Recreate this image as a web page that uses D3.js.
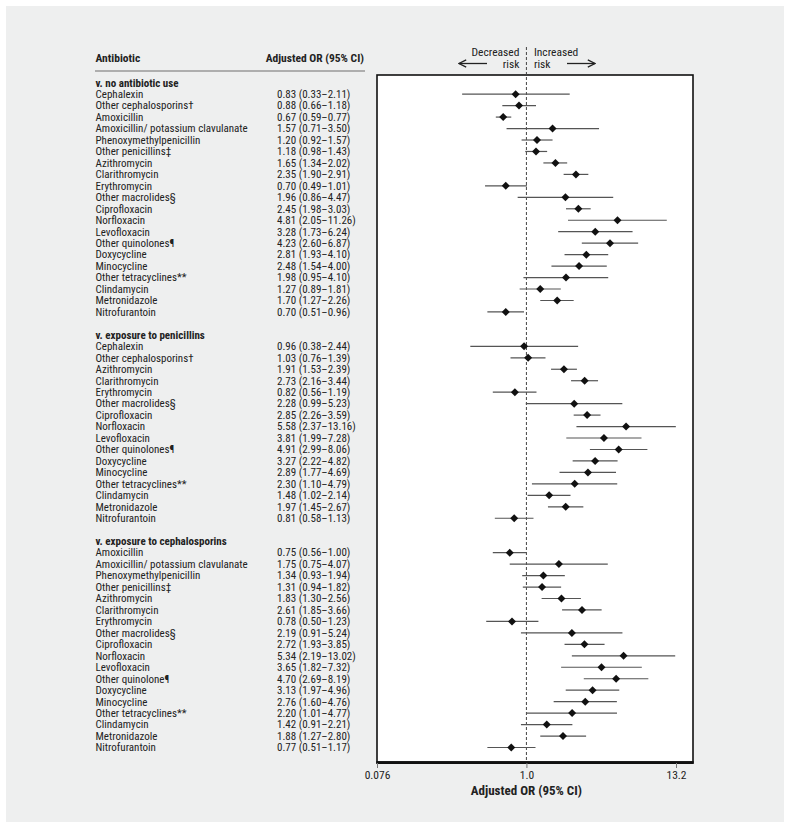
<!DOCTYPE html>
<html>
<head>
<meta charset="utf-8">
<script src="https://cdn.jsdelivr.net/npm/d3@7"></script>
<style>
  html, body { margin: 0; padding: 0; background: #ffffff; }
  svg { display: block; }
  text { font-family: "Liberation Sans Narrow", "Roboto Condensed", "Roboto", sans-serif; fill: #222; }
</style>
</head>
<body>
<script>
// ---------- DATA ----------
const sectionTitles = ["v. no antibiotic use", "v. exposure to penicillins", "v. exposure to cephalosporins"];

const drugs1 = ["Cephalexin", "Other cephalosporins\u2020", "Amoxicillin", "Amoxicillin/ potassium clavulanate",
  "Phenoxymethylpenicillin", "Other penicillins\u2021", "Azithromycin", "Clarithromycin", "Erythromycin",
  "Other macrolides\u00a7", "Ciprofloxacin", "Norfloxacin", "Levofloxacin", "Other quinolones\u00b6",
  "Doxycycline", "Minocycline", "Other tetracyclines**", "Clindamycin", "Metronidazole", "Nitrofurantoin"];
const or1 = [0.83, 0.88, 0.67, 1.57, 1.20, 1.18, 1.65, 2.35, 0.70, 1.96, 2.45, 4.81, 3.28, 4.23, 2.81, 2.48, 1.98, 1.27, 1.70, 0.70];
const lo1 = [0.33, 0.66, 0.59, 0.71, 0.92, 0.98, 1.34, 1.90, 0.49, 0.86, 1.98, 2.05, 1.73, 2.60, 1.93, 1.54, 0.95, 0.89, 1.27, 0.51];
const hi1 = [2.11, 1.18, 0.77, 3.50, 1.57, 1.43, 2.02, 2.91, 1.01, 4.47, 3.03, 11.26, 6.24, 6.87, 4.10, 4.00, 4.10, 1.81, 2.26, 0.96];

const drugs2 = ["Cephalexin", "Other cephalosporins\u2020", "Azithromycin", "Clarithromycin", "Erythromycin",
  "Other macrolides\u00a7", "Ciprofloxacin", "Norfloxacin", "Levofloxacin", "Other quinolones\u00b6",
  "Doxycycline", "Minocycline", "Other tetracyclines**", "Clindamycin", "Metronidazole", "Nitrofurantoin"];
const or2 = [0.96, 1.03, 1.91, 2.73, 0.82, 2.28, 2.85, 5.58, 3.81, 4.91, 3.27, 2.89, 2.30, 1.48, 1.97, 0.81];
const lo2 = [0.38, 0.76, 1.53, 2.16, 0.56, 0.99, 2.26, 2.37, 1.99, 2.99, 2.22, 1.77, 1.10, 1.02, 1.45, 0.58];
const hi2 = [2.44, 1.39, 2.39, 3.44, 1.19, 5.23, 3.59, 13.16, 7.28, 8.06, 4.82, 4.69, 4.79, 2.14, 2.67, 1.13];

const drugs3 = ["Amoxicillin", "Amoxicillin/ potassium clavulanate", "Phenoxymethylpenicillin", "Other penicillins\u2021",
  "Azithromycin", "Clarithromycin", "Erythromycin", "Other macrolides\u00a7", "Ciprofloxacin", "Norfloxacin",
  "Levofloxacin", "Other quinolone\u00b6", "Doxycycline", "Minocycline", "Other tetracyclines**",
  "Clindamycin", "Metronidazole", "Nitrofurantoin"];
const or3 = [0.75, 1.75, 1.34, 1.31, 1.83, 2.61, 0.78, 2.19, 2.72, 5.34, 3.65, 4.70, 3.13, 2.76, 2.20, 1.42, 1.88, 0.77];
const lo3 = [0.56, 0.75, 0.93, 0.94, 1.30, 1.85, 0.50, 0.91, 1.93, 2.19, 1.82, 2.69, 1.97, 1.60, 1.01, 0.91, 1.27, 0.51];
const hi3 = [1.00, 4.07, 1.94, 1.82, 2.56, 3.66, 1.23, 5.24, 3.85, 13.02, 7.32, 8.19, 4.96, 4.76, 4.77, 2.21, 2.80, 1.17];

const tickValues = [0.076, 1.0, 13.2];
const tickLabels = ["0.076", "1.0", "13.2"];
const colHeaders = ["Antibiotic", "Adjusted OR (95% CI)"];
const axisTitle = "Adjusted OR (95% CI)";
const dirLabels = ["Decreased", "risk", "Increased", "risk"];

// ---------- BUILD ROWS ----------
const sections = [
  {title: sectionTitles[0], drugs: drugs1, or: or1, lo: lo1, hi: hi1},
  {title: sectionTitles[1], drugs: drugs2, or: or2, lo: lo2, hi: hi2},
  {title: sectionTitles[2], drugs: drugs3, or: or3, lo: lo3, hi: hi3}
];
const rows = [];
let slot = 0;
sections.forEach((s, si) => {
  if (si > 0) slot += 1; // blank spacer
  rows.push({type: "head", text: s.title, slot: slot++});
  s.drugs.forEach((d, i) => rows.push({type: "row", name: d, or: s.or[i], lo: s.lo[i], hi: s.hi[i], slot: slot++}));
});
const nSlots = slot;

const fmt = v => v.toFixed(2);

// ---------- SVG ----------
const W = 791, H = 829;
const svg = d3.select("body").append("svg").attr("width", W).attr("height", H);

// panel background
svg.append("rect").attr("x", 6).attr("y", 6).attr("width", 778).attr("height", 816).attr("fill", "#eeefef");

const x = d3.scaleLog().domain([0.076, 13.2]).range([377, 676]);
const y = d3.scaleLinear().domain([0, nSlots - 1]).range([82.7, 747.5]);

const box = {x0: 377, x1: 693, y0: 75, y1: 762};

// plot box
svg.append("rect").attr("x", box.x0).attr("y", box.y0)
  .attr("width", box.x1 - box.x0).attr("height", box.y1 - box.y0)
  .attr("fill", "#ffffff").attr("stroke", "#111").attr("stroke-width", 1.6);
svg.append("line").attr("x1", box.x0 - 0.8).attr("x2", box.x1 + 0.8).attr("y1", box.y1 + 0.6).attr("y2", box.y1 + 0.6)
  .attr("stroke", "#111").attr("stroke-width", 2.6);

// reference line
svg.append("line").attr("x1", x(1)).attr("x2", x(1)).attr("y1", 47).attr("y2", box.y1)
  .attr("stroke", "#444").attr("stroke-width", 1).attr("stroke-dasharray", "3,2");

// axis
const axis = d3.axisBottom(x).tickValues(tickValues).tickFormat((d, i) => tickLabels[i]).tickSize(5).tickPadding(3);
const gAxis = svg.append("g").attr("transform", `translate(0,${box.y1 + 1})`).call(axis);
gAxis.select(".domain").remove();
gAxis.selectAll(".tick line").attr("stroke", "#777");
gAxis.selectAll(".tick text").attr("font-size", 11.5).attr("fill", "#333")
  .style("font-family", '"Liberation Sans Narrow", "Roboto Condensed", sans-serif');

svg.append("text").attr("x", x(1)).attr("y", 795).attr("text-anchor", "middle")
  .attr("font-size", 13).attr("font-weight", "bold").text(axisTitle);

// direction labels
const fsDir = 11.5;
svg.append("text").attr("x", x(1) - 7).attr("y", 55.5).attr("text-anchor", "end").attr("font-size", fsDir).attr("fill", "#333").text(dirLabels[0]);
svg.append("text").attr("x", x(1) - 7).attr("y", 68).attr("text-anchor", "end").attr("font-size", fsDir).attr("fill", "#333").text(dirLabels[1]);
svg.append("text").attr("x", x(1) + 7.5).attr("y", 55.5).attr("text-anchor", "start").attr("font-size", fsDir).attr("fill", "#333").text(dirLabels[2]);
svg.append("text").attr("x", x(1) + 7.5).attr("y", 68).attr("text-anchor", "start").attr("font-size", fsDir).attr("fill", "#333").text(dirLabels[3]);

const defs = svg.append("defs");
defs.append("marker").attr("id", "arr").attr("viewBox", "0 0 10 10").attr("refX", 9).attr("refY", 5)
  .attr("markerWidth", 9).attr("markerHeight", 9).attr("markerUnits", "userSpaceOnUse").attr("orient", "auto")
  .append("path").attr("d", "M1,1 L9,5 L1,9").attr("fill", "none").attr("stroke", "#222").attr("stroke-width", 1.4);
svg.append("line").attr("x1", 487).attr("x2", 459).attr("y1", 63.5).attr("y2", 63.5)
  .attr("stroke", "#222").attr("stroke-width", 1.3).attr("marker-end", "url(#arr)");
svg.append("line").attr("x1", 567).attr("x2", 595).attr("y1", 63.5).attr("y2", 63.5)
  .attr("stroke", "#222").attr("stroke-width", 1.3).attr("marker-end", "url(#arr)");

// column headers
const fs = 11;
const labX = 95.5, valX = 277;
svg.append("text").attr("x", labX).attr("y", 58).attr("dy", "0.35em").attr("font-size", 11.5).attr("font-weight", "bold").text(colHeaders[0]);
svg.append("text").attr("x", 364).attr("y", 58).attr("dy", "0.35em").attr("text-anchor", "end").attr("font-size", 11.5).attr("font-weight", "bold").text(colHeaders[1]);
svg.append("line").attr("x1", 95).attr("x2", 365).attr("y1", 71).attr("y2", 71).attr("stroke", "#999").attr("stroke-width", 1.6);

// rows text
const g = svg.append("g");
g.selectAll("text.head").data(rows.filter(r => r.type === "head")).join("text")
  .attr("class", "head").attr("x", labX).attr("y", d => y(d.slot)).attr("dy", "0.35em")
  .attr("font-size", fs).attr("font-weight", "bold").text(d => d.text);
const dataRows = rows.filter(r => r.type === "row");
g.selectAll("text.lab").data(dataRows).join("text")
  .attr("class", "lab").attr("x", labX).attr("y", d => y(d.slot)).attr("dy", "0.35em")
  .attr("font-size", fs).attr("fill", "#333").text(d => d.name);
g.selectAll("text.val").data(dataRows).join("text")
  .attr("class", "val").attr("x", valX).attr("y", d => y(d.slot)).attr("dy", "0.35em")
  .attr("font-size", fs).attr("fill", "#333").text(d => `${fmt(d.or)} (${fmt(d.lo)}\u2013${fmt(d.hi)})`);

// CI lines and diamonds
const gp = svg.append("g");
gp.selectAll("line.ci").data(dataRows).join("line")
  .attr("class", "ci").attr("x1", d => x(d.lo)).attr("x2", d => x(d.hi))
  .attr("y1", d => y(d.slot)).attr("y2", d => y(d.slot))
  .attr("stroke", "#555").attr("stroke-width", 1.2);
const sym = d3.symbol().type(d3.symbolSquare).size(32);
gp.selectAll("path.pt").data(dataRows).join("path")
  .attr("class", "pt").attr("d", sym)
  .attr("transform", d => `translate(${x(d.or)},${y(d.slot)}) rotate(45)`)
  .attr("fill", "#111");
</script>
</body>
</html>
